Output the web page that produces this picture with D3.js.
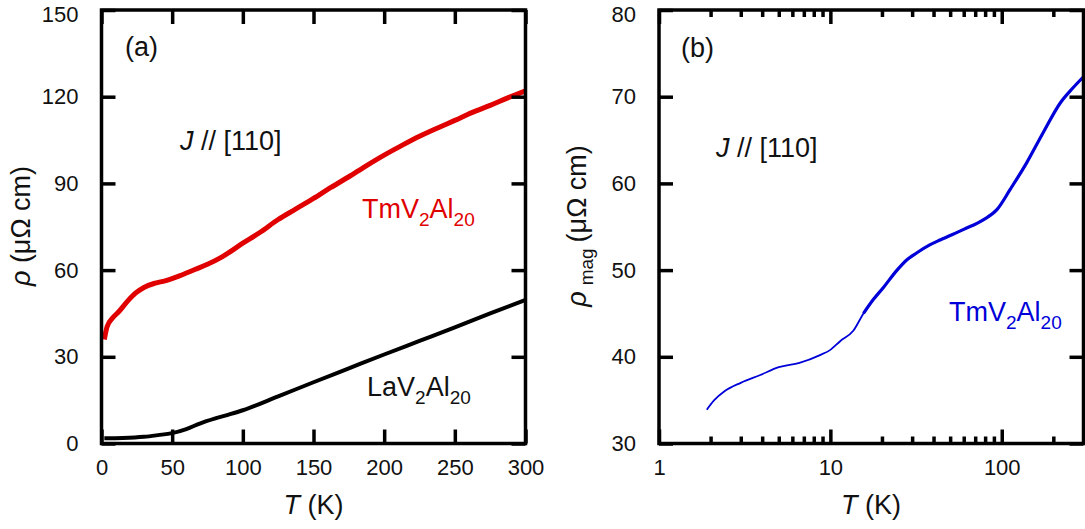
<!DOCTYPE html>
<html>
<head>
<meta charset="utf-8">
<script src="https://cdn.jsdelivr.net/npm/d3@7"></script>
<style>
    body { margin: 0; background: #fff; }
    svg text { font-family: "Liberation Sans", Arial, sans-serif; fill: #111; }
</style>
</head>
<body>
<svg class="fig" width="1085" height="529"></svg>
<script>
// panel (a): rho vs T, linear axes
const tmT   = [2, 4, 8, 12, 18, 24, 30, 38, 45, 55, 66, 75, 85, 100, 112, 125, 137, 150, 162, 175, 187, 200, 212, 225, 237, 250, 262, 275, 287, 300];
const tmRho = [36, 40.5, 43.5, 45.5, 49, 52, 54, 55.5, 56.3, 58, 60.2, 62, 64.5, 69.3, 73, 77.5, 81, 84.8, 88.5, 92.3, 96, 99.8, 103, 106.3, 109, 111.8, 114.5, 117, 119.5, 122];
const laT   = [2, 15, 30, 40, 50, 60, 70, 80, 90, 100, 125, 150, 175, 200, 225, 250, 275, 300];
const laRho = [1.8, 1.9, 2.3, 2.9, 3.6, 5, 7, 8.6, 10, 11.5, 16.3, 21.2, 26, 30.8, 35.5, 40.2, 45, 49.7];
const aXTicks = [0, 50, 100, 150, 200, 250, 300];
const aYTicks = [0, 30, 60, 90, 120, 150];

// panel (b): rho_mag vs T, log T axis
const magT   = [1.9, 2.1, 2.4, 3, 3.9, 5, 6.6, 8.7, 10, 11.4, 13.6, 15.6, 17.8, 20.4, 24.5, 28, 32, 38, 44, 60, 78, 94, 112, 140, 175, 220, 260, 300];
const magRho = [33.9, 35, 36, 37, 37.9, 38.8, 39.3, 40.2, 40.8, 41.8, 43, 45, 46.6, 48, 50, 51.2, 52, 52.9, 53.5, 54.7, 55.8, 57, 59.3, 62.4, 65.9, 69.3, 71, 72.3];
const bXMajor = [1, 10, 100];
const bXMinor = [2, 3, 4, 5, 6, 7, 8, 9, 20, 30, 40, 50, 60, 70, 80, 90, 200];
const bYTicks = [30, 40, 50, 60, 70, 80];

const svg = d3.select(".fig");
const tickFont = 22, bigFont = 27;
const plotTop = 10, plotBottom = 443.5;

function frame(g, x, y, xTicks, yTicks, xMinor, fmtX) {
    const [x0, x1] = x.range();
    // inner ticks on all four sides
    const axB = g.append("g").attr("transform", "translate(0," + plotBottom + ")")
        .call(d3.axisBottom(x).tickValues(xTicks).tickSize(-14).tickPadding(16).tickFormat(fmtX));
    const axT = g.append("g").attr("transform", "translate(0," + plotTop + ")")
        .call(d3.axisTop(x).tickValues(xTicks).tickSize(-14).tickFormat(""));
    const axL = g.append("g").attr("transform", "translate(" + x0 + ",0)")
        .call(d3.axisLeft(y).tickValues(yTicks).tickSize(-14).tickPadding(23));
    const axR = g.append("g").attr("transform", "translate(" + x1 + ",0)")
        .call(d3.axisRight(y).tickValues(yTicks).tickSize(-14).tickFormat(""));
    const all = [axB, axT, axL, axR];
    if (xMinor) {
        all.push(g.append("g").attr("transform", "translate(0," + plotBottom + ")")
            .call(d3.axisBottom(x).tickValues(xMinor).tickSize(-7).tickFormat("")));
        all.push(g.append("g").attr("transform", "translate(0," + plotTop + ")")
            .call(d3.axisTop(x).tickValues(xMinor).tickSize(-7).tickFormat("")));
    }
    all.forEach(a => {
        a.select(".domain").remove();
        a.selectAll(".tick line").attr("stroke", "#000").attr("stroke-width", 3.5);
        a.selectAll(".tick text").attr("font-size", tickFont).attr("fill", "#111")
            .attr("font-family", '"Liberation Sans", Arial, sans-serif');
    });
    // top label sits on the frame edge, nudge it down a little so it stays visible
    axL.selectAll(".tick text").filter(d => d === yTicks[yTicks.length - 1]).attr("dy", "0.5em");
    g.append("rect")
        .attr("x", x0).attr("y", plotTop)
        .attr("width", x1 - x0).attr("height", plotBottom - plotTop)
        .attr("fill", "none").attr("stroke", "#000").attr("stroke-width", 3.5);
}

function formula(g, x, y, parts, color) {
    // parts: [text, isSubscript]
    const t = g.append("text").attr("x", x).attr("y", y).attr("font-size", bigFont);
    let down = false;
    parts.forEach(p => {
        const sp = t.append("tspan").text(p[0]);
        if (p[1]) { sp.attr("font-size", 19).attr("dy", down ? 0 : 8); down = true; }
        else { sp.attr("dy", down ? -8 : 0); down = false; }
    });
    t.style("fill", color);
    t.selectAll("tspan").style("fill", color);
    return t;
}

function xTitle(g, cx) {
    const t = g.append("text").attr("x", cx).attr("y", 514)
        .attr("text-anchor", "middle").attr("font-size", bigFont);
    t.append("tspan").attr("font-style", "italic").text("T");
    t.append("tspan").text(" (K)");
}

// ---------- panel (a) ----------
const ga = svg.append("g");
const xa = d3.scaleLinear().domain([0, 300]).range([101.5, 525.5]);
const ya = d3.scaleLinear().domain([0, 150]).range([plotBottom, plotTop]);

const lineA = d3.line().x(d => xa(d[0])).y(d => ya(d[1])).curve(d3.curveMonotoneX);
ga.append("path").datum(laT.map((t, i) => [t, laRho[i]]))
    .attr("d", lineA).attr("fill", "none").attr("stroke", "#000").attr("stroke-width", 4);
ga.append("path").datum(tmT.map((t, i) => [t, tmRho[i]]))
    .attr("d", lineA).attr("fill", "none").attr("stroke", "#e00000").attr("stroke-width", 5);

frame(ga, xa, ya, aXTicks, aYTicks, null, d3.format("d"));

ga.append("text").attr("x", 125).attr("y", 56).attr("font-size", bigFont).text("(a)");
let ja = ga.append("text").attr("x", 180).attr("y", 150).attr("font-size", bigFont);
ja.append("tspan").attr("font-style", "italic").text("J");
ja.append("tspan").text(" // [110]");
formula(ga, 362, 218, [["TmV", 0], ["2", 1], ["Al", 0], ["20", 1]], "#e00000");
formula(ga, 367, 396, [["LaV", 0], ["2", 1], ["Al", 0], ["20", 1]], "#111");
xTitle(ga, 313.5);

let yta = ga.append("text").attr("transform", "translate(30,226) rotate(-90)")
    .attr("text-anchor", "middle").attr("font-size", bigFont);
yta.append("tspan").attr("font-style", "italic").text("ρ");
yta.append("tspan").text(" (μΩ cm)");

// ---------- panel (b) ----------
const gb = svg.append("g");
const xb = d3.scaleLog().domain([1, 300]).range([659, 1083.5]);
const yb = d3.scaleLinear().domain([30, 80]).range([plotBottom, plotTop]);

const magPts = magT.map((t, i) => [t, magRho[i]]);
const lineB = d3.line().x(d => xb(d[0])).y(d => yb(d[1])).curve(d3.curveMonotoneX);
gb.append("path").datum(magPts)
    .attr("d", lineB).attr("fill", "none").attr("stroke", "#0000d8").attr("stroke-width", 1.8);
// the high-T data are noisier and read as a thicker band
gb.append("path").datum(magPts.filter(d => d[0] >= 15.6))
    .attr("d", lineB).attr("fill", "none").attr("stroke", "#0000d8").attr("stroke-width", 3.2);

frame(gb, xb, yb, bXMajor, bYTicks, bXMinor, d3.format("d"));

gb.append("text").attr("x", 681).attr("y", 57).attr("font-size", bigFont).text("(b)");
let jb = gb.append("text").attr("x", 716).attr("y", 157).attr("font-size", bigFont);
jb.append("tspan").attr("font-style", "italic").text("J");
jb.append("tspan").text(" // [110]");
formula(gb, 949, 321, [["TmV", 0], ["2", 1], ["Al", 0], ["20", 1]], "#0000d8");
xTitle(gb, 871);

let ytb = gb.append("text").attr("transform", "translate(586,226) rotate(-90)")
    .attr("text-anchor", "middle").attr("font-size", bigFont);
ytb.append("tspan").attr("font-style", "italic").text("ρ");
ytb.append("tspan").attr("font-size", 19).attr("dx", 6).attr("dy", 7).text("mag");
ytb.append("tspan").attr("dx", 6).attr("dy", -7).text("(μΩ cm)");
</script>
</body>
</html>
